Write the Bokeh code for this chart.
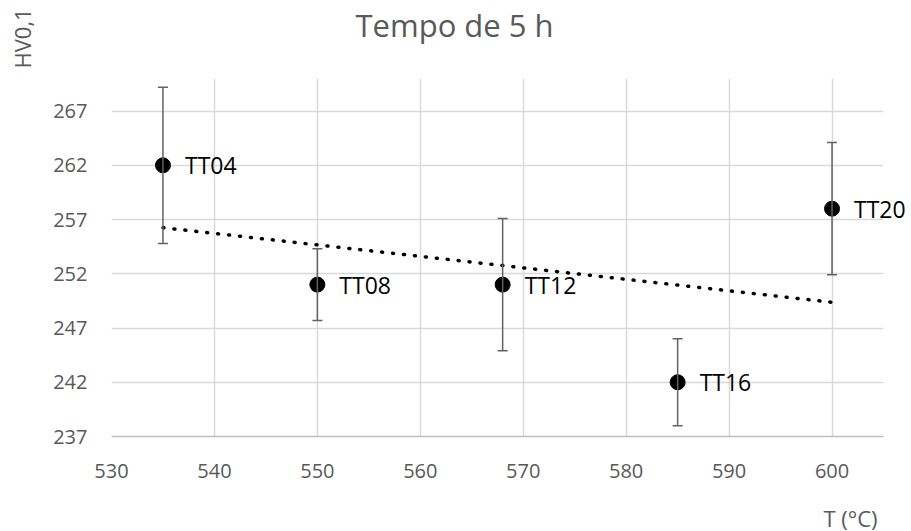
import numpy as np
from bokeh.plotting import figure
from bokeh.models import (ColumnDataSource, Whisker, TeeHead, FixedTicker, Range1d)
from bokeh.core.properties import value
from bokeh.embed import file_html
from bokeh.resources import INLINE

# Data
labels = ["TT04", "TT08", "TT12", "TT16", "TT20"]
temps = [535, 550, 568, 585, 600]
hv = [262, 251, 251, 242, 258]
err = [7.2, 3.3, 6.1, 4.0, 6.1]

x_ticks = [530, 540, 550, 560, 570, 580, 590, 600]
y_ticks = [237, 242, 247, 252, 257, 262, 267]
x_lim = (530, 605)
y_lim = (237, 270)

title_text = "Tempo de 5 h"
x_title = "T (°C)"
y_title = "HV0,1"

FONT = "Open Sans"
GRAY = "#595959"

p = figure(width=911, height=531, output_backend="svg", toolbar_location=None,
           x_range=Range1d(*x_lim), y_range=Range1d(*y_lim),
           min_border_left=111, min_border_right=28, min_border_top=78, min_border_bottom=95)
p.background_fill_color = "white"
p.border_fill_color = "white"
p.outline_line_color = None

p.xaxis.ticker = FixedTicker(ticks=x_ticks)
p.yaxis.ticker = FixedTicker(ticks=y_ticks)
for ax in (p.xaxis, p.yaxis):
    ax.major_tick_line_color = None
    ax.minor_tick_line_color = None
    ax.major_label_text_font = FONT
    ax.major_label_text_font_size = "20px"
    ax.major_label_text_color = GRAY
p.yaxis.axis_line_color = None
p.xaxis.axis_line_color = "#bfbfbf"
p.xaxis.axis_line_width = 1.5
p.yaxis.major_label_standoff = 18
p.xaxis.major_label_standoff = 21

p.xgrid.grid_line_color = "#d9d9d9"
p.ygrid.grid_line_color = "#d9d9d9"
p.xgrid.grid_line_width = 1.5
p.ygrid.grid_line_width = 1.5

src = ColumnDataSource(dict(x=temps, y=hv, lower=[h - e for h, e in zip(hv, err)],
                            upper=[h + e for h, e in zip(hv, err)], label=labels))

# trendline (linear fit of data)
coef = np.polyfit(temps, hv, 1)
tx = [min(temps), max(temps)]
ty = [coef[0] * t + coef[1] for t in tx]
p.line(tx, ty, line_color="black", line_width=3.5, line_dash="1 10", line_cap="round")

wh = Whisker(source=src, base="x", lower="lower", upper="upper", dimension="height",
             line_color="#636363", line_width=1.5,
             upper_head=TeeHead(size=10, line_color="#636363", line_width=1.5),
             lower_head=TeeHead(size=10, line_color="#636363", line_width=1.5),
             level="glyph")
p.add_layout(wh)

p.scatter("x", "y", source=src, size=15, color="black")
tr = p.text("x", "y", text="label", source=src, x_offset=22, text_baseline="middle",
            text_align="left", text_font=value(FONT), text_font_size="23px", text_color="black")
tr.level = "overlay"

# chart title and axis titles, anchored at the range corners
t1 = p.text(x=[x_lim[0]], y=[y_lim[1]], text=[title_text], x_offset=244, y_offset=-54,
            text_align="left", text_baseline="alphabetic", text_font=value(FONT),
            text_font_size="31px", text_color=GRAY)
t1.level = "overlay"
t2 = p.text(x=[x_lim[0]], y=[y_lim[1]], text=[y_title], x_offset=-90, y_offset=-10,
            angle=np.pi / 2, text_align="left", text_baseline="middle", text_font=value(FONT),
            text_font_size="22px", text_color=GRAY)
t2.level = "overlay"
t3 = p.text(x=[x_lim[1]], y=[y_lim[0]], text=[x_title], x_offset=-6, y_offset=81,
            text_align="right", text_baseline="middle", text_font=value(FONT),
            text_font_size="22px", text_color=GRAY)
t3.level = "overlay"

open("out.html", "w").write(file_html(p, INLINE))
